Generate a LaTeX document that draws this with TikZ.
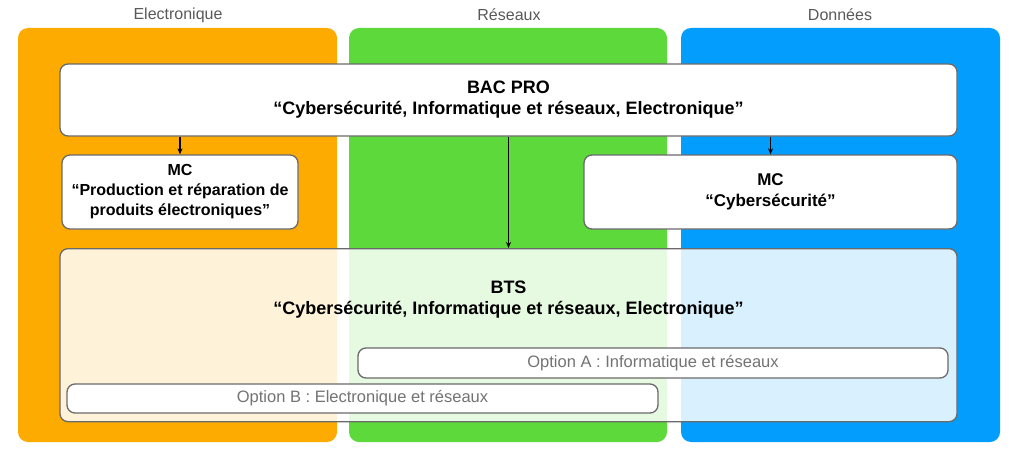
\documentclass[tikz,border=0pt]{standalone}
\usepackage{fontspec}
\setmainfont{Liberation Sans}
\usetikzlibrary{arrows.meta}

\definecolor{elecorange}{HTML}{FDAB00}
\definecolor{resgreen}{HTML}{5DD93B}
\definecolor{donblue}{HTML}{039EFD}
\definecolor{boxgray}{HTML}{6A6A6A}

\begin{document}
\begin{tikzpicture}[x=1pt, y=-1pt, line join=round, >={Stealth[length=6pt,width=5pt]},
    panel/.style={rounded corners=10pt},
    collabel/.style={text=black!65, font=\fontsize{16}{18}\selectfont},
    card/.style={draw=boxgray, line width=1.3pt, rounded corners=8pt, fill=white,
      align=center, font=\fontsize{17}{21}\selectfont\bfseries, inner sep=0pt},
    optbox/.style={draw=boxgray, line width=1.3pt, rounded corners=8pt, fill=white,
      text=black!55, font=\fontsize{16.5}{18}\selectfont, inner sep=0pt},
    arr/.style={->, line width=1.3pt}]
  \useasboundingbox (0,0) rectangle (1024,460);

  % the three columns
  \fill[panel, elecorange] (18,28) rectangle (337,442);
  \fill[panel, resgreen] (349,28) rectangle (667,442);
  \fill[panel, donblue] (681,28) rectangle (1000,442);
  \node[collabel] (lblelec) at (178,15) {Electronique};
  \node[collabel] (lblres) at (509,15) {Réseaux};
  \node[collabel] (lbldon) at (840,15) {Données};

  % diplomas
  \node[card, font=\fontsize{18}{21}\selectfont\bfseries, minimum width=897pt,
    minimum height=72pt] (bac) at (508.5,100)
    {BAC PRO\\“Cybersécurité, Informatique et réseaux, Electronique”};
  \node[card, font=\fontsize{16}{20}\selectfont\bfseries, minimum width=236pt,
    minimum height=74pt] (mcelec) at (180,192)
    {MC\\“Production et réparation de\\produits électroniques”};
  \node[card, minimum width=373pt, minimum height=74pt] (mccyber) at (770.5,192)
    {MC\\“Cybersécurité”};
  \node[card, fill opacity=0.85, text opacity=1, minimum width=897pt, minimum height=173pt,
    anchor=north] (bts) at (508.5,248) {};
  \node[font=\fontsize{18}{21}\selectfont\bfseries, align=center] (btstext) at (508.5,300)
    {BTS\\“Cybersécurité, Informatique et réseaux, Electronique”};
  \node[optbox, minimum width=590pt, minimum height=30pt] (opta) at (653,363)
    {Option A : Informatique et réseaux};
  \node[optbox, minimum width=591pt, minimum height=29pt] (optb) at (362.5,398.5)
    {Option B : Electronique et réseaux};

  \draw[arr] (bac.south -| mcelec.north) -- (mcelec.north);
  \draw[arr] (bac.south -| mccyber.north) -- (mccyber.north);
  \draw[arr] (bac.south) -- (bts.north);
\end{tikzpicture}
\end{document}
